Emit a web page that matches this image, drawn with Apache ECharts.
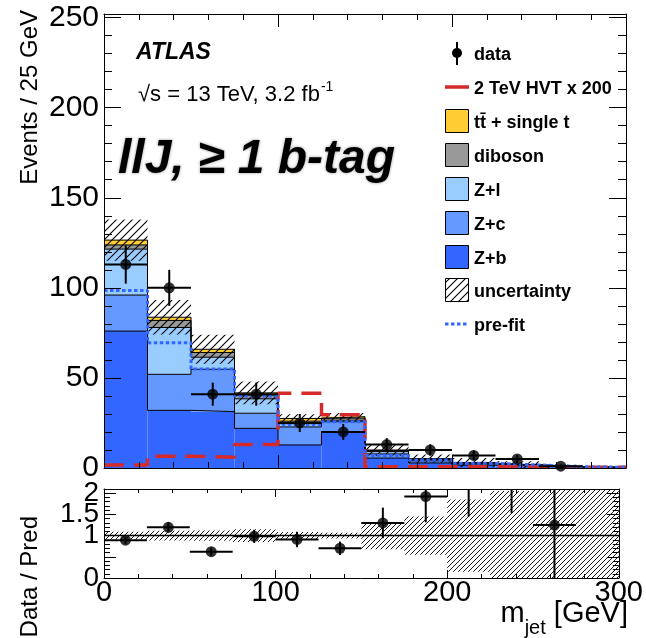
<!DOCTYPE html>
<html>
<head>
<meta charset="utf-8">
<script src="https://cdn.jsdelivr.net/npm/echarts@6/dist/echarts.min.js"></script>
<style>
  html, body { margin: 0; padding: 0; background: #fff; }
  #chart { width: 646px; height: 638px; }
</style>
</head>
<body>
<div id="chart"></div>
<script>
// ---- histogram contents (25 GeV bins) ----
const binEdges = [0, 25, 50, 75, 100, 125, 150, 175, 200, 225, 250, 275, 300];
const dataCounts = [113, 100, 41, 41, 25, 20, 13, 10, 7, 5, 1, 0];
const zPlusB = [76, 32, 31.3, 22, 12.8, 20.2, 5.5, 2.8, 1.6, 1.0, 0.45, 0.18];
const zPlusC = [20, 20, 23.5, 8.4, 10.0, 5.5, 2.3, 1.2, 0.67, 0.35, 0.15, 0.07];
const zPlusL = [25.5, 26, 6.7, 8.0, 1.8, 0.8, 1.3, 0.7, 0.45, 0.28, 0.12, 0.05];
const diboson = [2.3, 3.9, 2.6, 2.0, 1.4, 1.2, 0.6, 0.35, 0.2, 0.12, 0.05, 0.03];
const ttbarSingleTop = [2.7, 1.8, 1.8, 1.3, 1.5, 0.8, 0.3, 0.15, 0.08, 0.05, 0.03, 0.02];
const bkgUncertainty = [11.5, 9.6, 8.0, 6.3, 2.4, 2.0, 3.2, 2.35, 2.55, 1.9, 1.05, 0.5];
const preFitTotal = [98.5, 69.5, 55, 40, 24, 25.7, 7, 4.4, 2.6, 1.7, 0.7, 0.4];
const hvtSignal = [1.7, 6.5, 6.0, 13, 41.5, 29.5, 0.7, 0.7, 0.7, 0.7, 0.4, 0.4];

// ---- axis tick labels ----
const xTickLabels = [0, 100, 200, 300];
const mainYTickLabels = [0, 50, 100, 150, 200, 250];
const ratioYTickLabels = [0, 0.5, 1, 1.5, 2];
const mainYMax = 252;
const ratioYMax = 2.1;

// ---- colours ----
const COL = {
  zb: '#3366ff', zc: '#6699ff', zl: '#99ccff', dib: '#999999', tt: '#ffcc33',
  sig: '#d42a2a', pre: '#3366ff'
};
const FONT = '"Liberation Sans", Arial, Helvetica, sans-serif';

// ---- derived quantities ----
const nBins = dataCounts.length;
const binLo = binEdges.slice(0, -1);
const binHi = binEdges.slice(1);
const binCenter = binLo.map((lo, i) => (lo + binHi[i]) / 2);
const halfWidth = binLo.map((lo, i) => (binHi[i] - lo) / 2);

const stackOrder = [
  { values: zPlusB, color: COL.zb },
  { values: zPlusC, color: COL.zc },
  { values: zPlusL, color: COL.zl },
  { values: diboson, color: COL.dib },
  { values: ttbarSingleTop, color: COL.tt }
];
let running = new Array(nBins).fill(0);
const stackLayers = stackOrder.map(c => {
  const lo = running.slice();
  const hi = lo.map((v, i) => v + c.values[i]);
  running = hi;
  return { color: c.color, lo, hi };
});
const totalPred = running;

// ---- hatch patterns ----
function hatchPattern(step, lw) {
  const c = document.createElement('canvas');
  c.width = step; c.height = step;
  const g = c.getContext('2d');
  g.strokeStyle = '#000';
  g.lineWidth = lw;
  g.beginPath();
  g.moveTo(0, step); g.lineTo(step, 0);
  g.moveTo(-step, step); g.lineTo(step, -step);
  g.moveTo(0, 2 * step); g.lineTo(2 * step, 0);
  g.stroke();
  return c;
}
const hatchMain = { image: hatchPattern(8, 1.1), repeat: 'repeat' };
const hatchRatio = { image: hatchPattern(5, 0.9), repeat: 'repeat' };

// ---- helpers ----
const stepData = vals =>
  binLo.map((x, i) => [x, vals[i]]).concat([[binEdges[nBins], vals[nBins - 1]]]);

function boxSeries(lo, hi, fill, xi, yi, z) {
  return {
    type: 'custom', xAxisIndex: xi, yAxisIndex: yi, z, clip: true, silent: true,
    data: binLo.map((x, i) => [x, binHi[i], lo[i], hi[i]]),
    renderItem: (params, api) => {
      const a = api.coord([api.value(0), api.value(3)]);
      const b = api.coord([api.value(1), api.value(2)]);
      return {
        type: 'rect',
        shape: { x: a[0], y: a[1], width: b[0] - a[0], height: b[1] - a[1] },
        style: { fill }
      };
    }
  };
}

function stepLine(vals, color, width, dash, xi, yi, z) {
  return {
    type: 'line', xAxisIndex: xi, yAxisIndex: yi, z, step: 'end', silent: true,
    symbol: 'none', data: stepData(vals),
    lineStyle: { color, width, type: dash || 'solid', cap: 'butt' }
  };
}

function errorBarSeries(rows, xi, yi, z) {
  // rows: [x, y, lo, hi, halfWidth, showHorizontal]
  return {
    type: 'custom', xAxisIndex: xi, yAxisIndex: yi, z, clip: true, silent: true,
    data: rows,
    renderItem: (params, api) => {
      const x = api.value(0), y = api.value(1);
      const pLo = api.coord([x, api.value(2)]);
      const pHi = api.coord([x, api.value(3)]);
      const hw = api.value(4);
      const kids = [{
        type: 'line',
        shape: { x1: pLo[0], y1: pLo[1], x2: pHi[0], y2: pHi[1] },
        style: { stroke: '#000', lineWidth: 2 }
      }];
      if (api.value(5)) {
        const pL = api.coord([x - hw, y]);
        const pR = api.coord([x + hw, y]);
        kids.push({
          type: 'line',
          shape: { x1: pL[0], y1: pL[1], x2: pR[0], y2: pR[1] },
          style: { stroke: '#000', lineWidth: 2 }
        });
      }
      return { type: 'group', children: kids };
    }
  };
}

// ---- data points (main panel) ----
const dataIdx = dataCounts.map((n, i) => i).filter(i => dataCounts[i] > 0);
const dataRows = dataIdx.map(i => {
  const e = Math.sqrt(dataCounts[i]);
  return [binCenter[i], dataCounts[i], dataCounts[i] - e, dataCounts[i] + e, halfWidth[i], 1];
});
const dataPts = dataIdx.map(i => [binCenter[i], dataCounts[i]]);

// ---- ratio panel ----
const relUnc = bkgUncertainty.map((u, i) => u / totalPred[i]);
const ratioBandLo = relUnc.map(r => Math.max(0, 1 - r));
const ratioBandHi = relUnc.map(r => Math.min(ratioYMax, 1 + r));
const ratioRows = dataIdx.map(i => {
  const r = dataCounts[i] / totalPred[i];
  const e = Math.sqrt(dataCounts[i]) / totalPred[i];
  return [binCenter[i], r, Math.max(0, r - e), Math.min(ratioYMax, r + e), halfWidth[i], r <= ratioYMax ? 1 : 0];
});
const ratioPts = dataIdx
  .map(i => [binCenter[i], dataCounts[i] / totalPred[i]])
  .filter(p => p[1] <= ratioYMax);

// ---- axes ----
function xAxisCfg(grid, pos, labels, major, minor) {
  return {
    type: 'value', gridIndex: grid, position: pos, z: 10,
    min: xTickLabels[0], max: xTickLabels[xTickLabels.length - 1],
    interval: xTickLabels[1] - xTickLabels[0],
    axisLine: { show: true, onZero: false, lineStyle: { color: '#000', width: 1 } },
    axisTick: { show: true, inside: true, length: major, lineStyle: { color: '#000', width: 1 } },
    minorTick: { show: true, splitNumber: 5, length: minor, lineStyle: { color: '#000', width: 1 } },
    axisLabel: {
      show: labels, margin: 0, color: '#000', fontSize: 29, fontFamily: FONT,
      showMinLabel: true, showMaxLabel: true, hideOverlap: false,
      formatter: v => (xTickLabels.includes(v) ? String(v) : '')
    },
    splitLine: { show: false }, minorSplitLine: { show: false }
  };
}
function yAxisCfg(grid, pos, labels, ticks, max, minorSplit, major, minor, fontSize) {
  return {
    type: 'value', gridIndex: grid, position: pos, z: 10,
    min: ticks[0], max, interval: ticks[1] - ticks[0],
    axisLine: { show: true, onZero: false, lineStyle: { color: '#000', width: 1 } },
    axisTick: { show: true, inside: true, length: major, lineStyle: { color: '#000', width: 1 } },
    minorTick: { show: true, splitNumber: minorSplit, length: minor, lineStyle: { color: '#000', width: 1 } },
    axisLabel: {
      show: labels, margin: 5, color: '#000', fontSize, fontFamily: FONT,
      showMinLabel: true, showMaxLabel: true, hideOverlap: false,
      formatter: v => (ticks.some(t => Math.abs(t - v) < 1e-9) ? String(v) : '')
    },
    splitLine: { show: false }, minorSplitLine: { show: false }
  };
}

// ---- series ----
const series = [];
stackLayers.forEach(l => series.push(boxSeries(l.lo, l.hi, l.color, 0, 0, 2)));
stackLayers.forEach(l => series.push(stepLine(l.hi, '#000', 1, 'solid', 0, 0, 3)));
series.push(boxSeries(
  totalPred.map((t, i) => Math.max(0, t - bkgUncertainty[i])),
  totalPred.map((t, i) => t + bkgUncertainty[i]),
  hatchMain, 0, 0, 4));
series.push(stepLine(hvtSignal, COL.sig, 3.5, [20, 10], 0, 0, 5));
series.push(stepLine(preFitTotal, COL.pre, 3, [3.5, 2.5], 0, 0, 6));
series.push(errorBarSeries(dataRows, 0, 0, 7));
series.push({
  type: 'scatter', xAxisIndex: 0, yAxisIndex: 0, z: 8, silent: true,
  symbol: 'circle', symbolSize: 11, data: dataPts, itemStyle: { color: '#000' }
});

series.push(boxSeries(ratioBandLo, ratioBandHi, hatchRatio, 2, 2, 2));
series.push({
  type: 'line', xAxisIndex: 2, yAxisIndex: 2, z: 3, silent: true, symbol: 'none',
  data: [[binEdges[0], 1], [binEdges[nBins], 1]],
  lineStyle: { color: '#000', width: 1.5 }
});
series.push(errorBarSeries(ratioRows, 2, 2, 7));
series.push({
  type: 'scatter', xAxisIndex: 2, yAxisIndex: 2, z: 8, silent: true,
  symbol: 'circle', symbolSize: 11, data: ratioPts, itemStyle: { color: '#000' }
});

// ---- text & legend ----
const mctx = document.createElement('canvas').getContext('2d');
function textWidth(str, size, weight, style) {
  mctx.font = `${style || 'normal'} ${weight || 'normal'} ${size}px ${FONT}`;
  return mctx.measureText(str).width;
}
const txt = (x, y, text, size, extra) => ({
  type: 'text', x, y, z: 100,
  style: Object.assign({ text, fontSize: size, fontFamily: FONT, fill: '#000', verticalAlign: 'middle' }, extra || {})
});

const graphic = [];
// experiment label
graphic.push(txt(136, 53, 'ATLAS', 23, { fontWeight: 'bold', fontStyle: 'italic' }));
const lumiText = '\u221As = 13 TeV, 3.2 fb';
graphic.push(txt(138, 95, lumiText, 22));
graphic.push(txt(138 + textWidth(lumiText, 22) + 1, 87, '-1', 14));
graphic.push(txt(118, 160, 'llJ, \u2265 1 b-tag', 48, {
  fontWeight: 'bold', fontStyle: 'italic', textShadowColor: 'rgba(0,0,0,0.45)', textShadowBlur: 3
}));

// legend
const lgX = 445, lgW = 24, lgTextX = 474;
graphic.push({ type: 'line', z: 100, shape: { x1: 457, y1: 42, x2: 457, y2: 65 }, style: { stroke: '#000', lineWidth: 2 } });
graphic.push({ type: 'circle', z: 101, shape: { cx: 457, cy: 53, r: 5 }, style: { fill: '#000' } });
graphic.push(txt(lgTextX, 55.5, 'data', 18, { fontWeight: 'bold' }));

graphic.push({ type: 'line', z: 100, shape: { x1: lgX, y1: 87, x2: lgX + lgW, y2: 87 }, style: { stroke: COL.sig, lineWidth: 3.5 } });
graphic.push(txt(lgTextX, 89, '2 TeV HVT x 200', 18, { fontWeight: 'bold' }));

const boxRows = [
  { y: 121, fill: COL.tt, label: 't\u0074\u0304 + single t' },
  { y: 155, fill: COL.dib, label: 'diboson' },
  { y: 189, fill: COL.zl, label: 'Z+l' },
  { y: 223, fill: COL.zc, label: 'Z+c' },
  { y: 257, fill: COL.zb, label: 'Z+b' },
  { y: 290, fill: hatchMain, label: 'uncertainty' }
];
boxRows.forEach(r => {
  graphic.push({
    type: 'rect', z: 100,
    shape: { x: lgX + 0.5, y: r.y - 11.5, width: lgW - 1, height: 23 },
    style: { fill: r.fill, stroke: '#000', lineWidth: 1 }
  });
  graphic.push(txt(lgTextX, r.y + 2, r.label, 18, { fontWeight: 'bold' }));
});
graphic.push({
  type: 'line', z: 100, shape: { x1: lgX, y1: 324, x2: lgX + lgW, y2: 324 },
  style: { stroke: COL.pre, lineWidth: 3, lineDash: [3.5, 2.5] }
});
graphic.push(txt(lgTextX, 326, 'pre-fit', 18, { fontWeight: 'bold' }));

// axis titles
graphic.push({
  type: 'text', x: 30, y: 10, rotation: Math.PI / 2, z: 100,
  style: { text: 'Events / 25 GeV', fontSize: 24, fontFamily: FONT, fill: '#000', align: 'right', verticalAlign: 'middle' }
});
graphic.push({
  type: 'text', x: 30, y: 516, rotation: Math.PI / 2, z: 100,
  style: { text: 'Data / Pred', fontSize: 24, fontFamily: FONT, fill: '#000', align: 'right', verticalAlign: 'middle' }
});
const wM = textWidth('m', 29), wJet = textWidth('jet', 20), wGeV = textWidth(' [GeV]', 29);
const xTitleStart = 628 - (wM + wJet + wGeV);
graphic.push(txt(xTitleStart, 614, 'm', 29));
graphic.push(txt(xTitleStart + wM, 628, 'jet', 20));
graphic.push(txt(xTitleStart + wM + wJet, 614, ' [GeV]', 29));

const option = {
  animation: false,
  backgroundColor: '#fff',
  grid: [
    { left: 104, right: 20, top: 14, height: 454 },
    { left: 104, right: 20, top: 489, height: 89 }
  ],
  xAxis: [
    xAxisCfg(0, 'bottom', false, 13, 6),
    xAxisCfg(0, 'top', false, 13, 6),
    xAxisCfg(1, 'bottom', true, 8, 4),
    xAxisCfg(1, 'top', false, 8, 4)
  ],
  yAxis: [
    yAxisCfg(0, 'left', true, mainYTickLabels, mainYMax, 5, 17, 8, 30),
    yAxisCfg(0, 'right', false, mainYTickLabels, mainYMax, 5, 17, 8, 30),
    yAxisCfg(1, 'left', true, ratioYTickLabels, ratioYMax, 5, 12, 6, 28),
    yAxisCfg(1, 'right', false, ratioYTickLabels, ratioYMax, 5, 12, 6, 28)
  ],
  series,
  graphic
};

const chart = echarts.init(document.getElementById('chart'), null, { renderer: 'canvas' });
chart.setOption(option);
</script>
</body>
</html>
